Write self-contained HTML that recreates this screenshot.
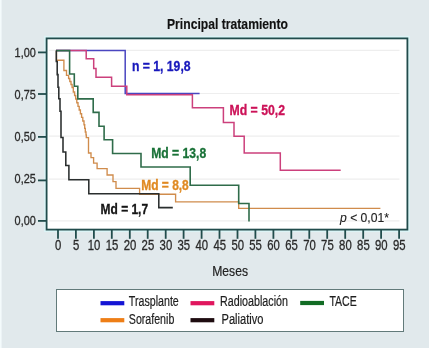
<!DOCTYPE html>
<html><head><meta charset="utf-8"><style>
html,body{margin:0;padding:0;background:#e1e9ec;}
svg{display:block;font-family:"Liberation Sans",sans-serif;} svg{will-change:transform}
</style></head><body>
<svg width="429" height="348" viewBox="0 0 429 348">
<rect x="0" y="0" width="429" height="348" fill="#e1e9ec"/>
<rect x="0" y="0" width="1.6" height="348" fill="#f4fbfc"/>
<rect x="46.6" y="38.4" width="360.8" height="191.2" fill="none" stroke="#dcf4f6" stroke-width="5"/>
<rect x="46.6" y="38.4" width="360.8" height="191.2" fill="#ffffff" stroke="#214c4c" stroke-width="1.8"/>
<line x1="49" y1="50.4" x2="399.5" y2="50.4" stroke="#eeeeee" stroke-width="1.2"/>
<line x1="49" y1="93.5" x2="399.5" y2="93.5" stroke="#eeeeee" stroke-width="1.2"/>
<line x1="49" y1="136.2" x2="399.5" y2="136.2" stroke="#eeeeee" stroke-width="1.2"/>
<line x1="49" y1="179.1" x2="399.5" y2="179.1" stroke="#eeeeee" stroke-width="1.2"/>
<line x1="49" y1="220.8" x2="399.5" y2="220.8" stroke="#eeeeee" stroke-width="1.2"/>
<line x1="38" y1="52.4" x2="46.6" y2="52.4" stroke="#214c4c" stroke-width="1.8"/>
<text x="35.8" y="56.9" text-anchor="end" font-size="13.5" textLength="21.2" lengthAdjust="spacingAndGlyphs" fill="#2a2a2a" stroke="#2a2a2a" stroke-width="0.3">1,00</text>
<line x1="38" y1="94.0" x2="46.6" y2="94.0" stroke="#214c4c" stroke-width="1.8"/>
<text x="35.8" y="98.9" text-anchor="end" font-size="13.5" textLength="21.2" lengthAdjust="spacingAndGlyphs" fill="#2a2a2a" stroke="#2a2a2a" stroke-width="0.3">0,75</text>
<line x1="38" y1="136.9" x2="46.6" y2="136.9" stroke="#214c4c" stroke-width="1.8"/>
<text x="35.8" y="140.9" text-anchor="end" font-size="13.5" textLength="21.2" lengthAdjust="spacingAndGlyphs" fill="#2a2a2a" stroke="#2a2a2a" stroke-width="0.3">0,50</text>
<line x1="38" y1="180.4" x2="46.6" y2="180.4" stroke="#214c4c" stroke-width="1.8"/>
<text x="35.8" y="182.6" text-anchor="end" font-size="13.5" textLength="21.2" lengthAdjust="spacingAndGlyphs" fill="#2a2a2a" stroke="#2a2a2a" stroke-width="0.3">0,25</text>
<line x1="38" y1="220.9" x2="46.6" y2="220.9" stroke="#214c4c" stroke-width="1.8"/>
<text x="35.8" y="224.9" text-anchor="end" font-size="13.5" textLength="21.2" lengthAdjust="spacingAndGlyphs" fill="#2a2a2a" stroke="#2a2a2a" stroke-width="0.3">0,00</text>
<line x1="58.0" y1="229.6" x2="58.0" y2="238.8" stroke="#214c4c" stroke-width="1.8"/>
<text x="58.2" y="250.2" text-anchor="middle" font-size="14.2" textLength="6.3" lengthAdjust="spacingAndGlyphs" fill="#2a2a2a" stroke="#2a2a2a" stroke-width="0.3">0</text>
<line x1="75.9" y1="229.6" x2="75.9" y2="238.8" stroke="#214c4c" stroke-width="1.8"/>
<text x="76.1" y="250.2" text-anchor="middle" font-size="14.2" textLength="6.3" lengthAdjust="spacingAndGlyphs" fill="#2a2a2a" stroke="#2a2a2a" stroke-width="0.3">5</text>
<line x1="93.9" y1="229.6" x2="93.9" y2="238.8" stroke="#214c4c" stroke-width="1.8"/>
<text x="94.1" y="250.2" text-anchor="middle" font-size="14.2" textLength="12.6" lengthAdjust="spacingAndGlyphs" fill="#2a2a2a" stroke="#2a2a2a" stroke-width="0.3">10</text>
<line x1="111.8" y1="229.6" x2="111.8" y2="238.8" stroke="#214c4c" stroke-width="1.8"/>
<text x="112.0" y="250.2" text-anchor="middle" font-size="14.2" textLength="12.6" lengthAdjust="spacingAndGlyphs" fill="#2a2a2a" stroke="#2a2a2a" stroke-width="0.3">15</text>
<line x1="129.8" y1="229.6" x2="129.8" y2="238.8" stroke="#214c4c" stroke-width="1.8"/>
<text x="130.0" y="250.2" text-anchor="middle" font-size="14.2" textLength="12.6" lengthAdjust="spacingAndGlyphs" fill="#2a2a2a" stroke="#2a2a2a" stroke-width="0.3">20</text>
<line x1="147.7" y1="229.6" x2="147.7" y2="238.8" stroke="#214c4c" stroke-width="1.8"/>
<text x="147.9" y="250.2" text-anchor="middle" font-size="14.2" textLength="12.6" lengthAdjust="spacingAndGlyphs" fill="#2a2a2a" stroke="#2a2a2a" stroke-width="0.3">25</text>
<line x1="165.7" y1="229.6" x2="165.7" y2="238.8" stroke="#214c4c" stroke-width="1.8"/>
<text x="165.9" y="250.2" text-anchor="middle" font-size="14.2" textLength="12.6" lengthAdjust="spacingAndGlyphs" fill="#2a2a2a" stroke="#2a2a2a" stroke-width="0.3">30</text>
<line x1="183.6" y1="229.6" x2="183.6" y2="238.8" stroke="#214c4c" stroke-width="1.8"/>
<text x="183.8" y="250.2" text-anchor="middle" font-size="14.2" textLength="12.6" lengthAdjust="spacingAndGlyphs" fill="#2a2a2a" stroke="#2a2a2a" stroke-width="0.3">35</text>
<line x1="201.6" y1="229.6" x2="201.6" y2="238.8" stroke="#214c4c" stroke-width="1.8"/>
<text x="201.8" y="250.2" text-anchor="middle" font-size="14.2" textLength="12.6" lengthAdjust="spacingAndGlyphs" fill="#2a2a2a" stroke="#2a2a2a" stroke-width="0.3">40</text>
<line x1="219.5" y1="229.6" x2="219.5" y2="238.8" stroke="#214c4c" stroke-width="1.8"/>
<text x="219.7" y="250.2" text-anchor="middle" font-size="14.2" textLength="12.6" lengthAdjust="spacingAndGlyphs" fill="#2a2a2a" stroke="#2a2a2a" stroke-width="0.3">45</text>
<line x1="237.5" y1="229.6" x2="237.5" y2="238.8" stroke="#214c4c" stroke-width="1.8"/>
<text x="237.7" y="250.2" text-anchor="middle" font-size="14.2" textLength="12.6" lengthAdjust="spacingAndGlyphs" fill="#2a2a2a" stroke="#2a2a2a" stroke-width="0.3">50</text>
<line x1="255.4" y1="229.6" x2="255.4" y2="238.8" stroke="#214c4c" stroke-width="1.8"/>
<text x="255.6" y="250.2" text-anchor="middle" font-size="14.2" textLength="12.6" lengthAdjust="spacingAndGlyphs" fill="#2a2a2a" stroke="#2a2a2a" stroke-width="0.3">55</text>
<line x1="273.4" y1="229.6" x2="273.4" y2="238.8" stroke="#214c4c" stroke-width="1.8"/>
<text x="273.6" y="250.2" text-anchor="middle" font-size="14.2" textLength="12.6" lengthAdjust="spacingAndGlyphs" fill="#2a2a2a" stroke="#2a2a2a" stroke-width="0.3">60</text>
<line x1="291.3" y1="229.6" x2="291.3" y2="238.8" stroke="#214c4c" stroke-width="1.8"/>
<text x="291.5" y="250.2" text-anchor="middle" font-size="14.2" textLength="12.6" lengthAdjust="spacingAndGlyphs" fill="#2a2a2a" stroke="#2a2a2a" stroke-width="0.3">65</text>
<line x1="309.3" y1="229.6" x2="309.3" y2="238.8" stroke="#214c4c" stroke-width="1.8"/>
<text x="309.5" y="250.2" text-anchor="middle" font-size="14.2" textLength="12.6" lengthAdjust="spacingAndGlyphs" fill="#2a2a2a" stroke="#2a2a2a" stroke-width="0.3">70</text>
<line x1="327.2" y1="229.6" x2="327.2" y2="238.8" stroke="#214c4c" stroke-width="1.8"/>
<text x="327.4" y="250.2" text-anchor="middle" font-size="14.2" textLength="12.6" lengthAdjust="spacingAndGlyphs" fill="#2a2a2a" stroke="#2a2a2a" stroke-width="0.3">75</text>
<line x1="345.2" y1="229.6" x2="345.2" y2="238.8" stroke="#214c4c" stroke-width="1.8"/>
<text x="345.4" y="250.2" text-anchor="middle" font-size="14.2" textLength="12.6" lengthAdjust="spacingAndGlyphs" fill="#2a2a2a" stroke="#2a2a2a" stroke-width="0.3">80</text>
<line x1="363.2" y1="229.6" x2="363.2" y2="238.8" stroke="#214c4c" stroke-width="1.8"/>
<text x="363.4" y="250.2" text-anchor="middle" font-size="14.2" textLength="12.6" lengthAdjust="spacingAndGlyphs" fill="#2a2a2a" stroke="#2a2a2a" stroke-width="0.3">85</text>
<line x1="381.1" y1="229.6" x2="381.1" y2="238.8" stroke="#214c4c" stroke-width="1.8"/>
<text x="381.3" y="250.2" text-anchor="middle" font-size="14.2" textLength="12.6" lengthAdjust="spacingAndGlyphs" fill="#2a2a2a" stroke="#2a2a2a" stroke-width="0.3">90</text>
<line x1="399.1" y1="229.6" x2="399.1" y2="238.8" stroke="#214c4c" stroke-width="1.8"/>
<text x="399.3" y="250.2" text-anchor="middle" font-size="14.2" textLength="12.6" lengthAdjust="spacingAndGlyphs" fill="#2a2a2a" stroke="#2a2a2a" stroke-width="0.3">95</text>
<polyline points="56.0,50.6 125.2,50.6 125.2,93.5 199.6,93.5" fill="none" stroke="#4a46c0" stroke-width="1.5" stroke-linejoin="miter"/>
<polyline points="56.0,50.6 86.2,50.6 86.2,58.8 93.7,58.8 93.7,68.5 96.0,68.5 96.0,77.2 111.6,77.2 111.6,86.2 126.8,86.2 126.8,94.8 192.4,94.8 192.4,107.7 223.4,107.7 223.4,122.4 234.0,122.4 234.0,136.2 244.2,136.2 244.2,153.0 280.3,153.0 280.3,170.3 340.7,170.3" fill="none" stroke="#cc407c" stroke-width="1.5" stroke-linejoin="miter"/>
<polyline points="56.5,50.6 56.5,60.2 63.9,60.2 63.9,70.5 66.5,70.5 66.5,75.3 68.6,75.3 68.6,78.5 69.8,78.5 69.8,81.5 71.0,81.5 71.0,84.5 72.1,84.5 72.1,87.5 73.3,87.5 73.3,92.0 74.6,92.0 74.6,95.5 75.7,95.5 75.7,99.0 76.8,99.0 76.8,102.7 78.0,102.7 78.0,106.3 79.2,106.3 79.2,110.0 80.4,110.0 80.4,113.7 81.6,113.7 81.6,117.3 82.8,117.3 82.8,121.0 84.0,121.0 84.0,124.7 84.7,124.7 84.7,128.3 85.3,128.3 85.3,132.0 86.0,132.0 86.0,134.8 86.3,134.8 86.3,137.6 86.6,137.6 88.5,137.6 88.5,153.0 91.0,153.0 91.0,157.6 93.6,157.6 93.6,163.1 97.1,163.1 97.1,168.6 107.1,168.6 107.1,175.0 113.0,175.0 113.0,181.6 116.0,181.6 116.0,188.4 139.6,188.4 139.6,194.2 175.6,194.2 175.6,201.9 238.7,201.9 238.7,208.3 380.4,208.3" fill="none" stroke="#d08c4c" stroke-width="1.35" stroke-linejoin="miter"/>
<polyline points="56.0,50.6 69.6,50.6 69.6,74.0 74.3,74.0 74.3,86.3 77.8,86.3 77.8,98.9 93.2,98.9 93.2,112.4 99.0,112.4 99.0,126.2 104.1,126.2 104.1,139.7 112.6,139.7 112.6,153.5 141.0,153.5 141.0,167.0 190.2,167.0 190.2,185.3 238.7,185.3 238.7,203.5 249.0,203.5 249.0,221.6" fill="none" stroke="#2f6c4a" stroke-width="1.6" stroke-linejoin="miter"/>
<polyline points="56.3,50.6 56.3,61.5 57.2,61.5 57.2,74.6 58.0,74.6 58.0,87.2 58.8,87.2 58.8,98.7 60.0,98.7 60.0,111.3 61.0,111.3 61.0,137.4 63.0,137.4 63.0,152.0 65.8,152.0 65.8,165.5 68.9,165.5 68.9,179.7 88.8,179.7 88.8,193.8 158.8,193.8 158.8,207.6 172.8,207.6" fill="none" stroke="#2a2e2e" stroke-width="1.55" stroke-linejoin="miter"/>
<text x="167" y="28.9" font-size="14.7" font-weight="bold" textLength="121" lengthAdjust="spacingAndGlyphs" fill="#111" stroke="#111" stroke-width="0.15" >Principal tratamiento</text>
<text x="131.9" y="70.6" font-size="13.8" font-weight="bold" textLength="58.7" lengthAdjust="spacingAndGlyphs" fill="#1818bc" stroke="#1818bc" stroke-width="0.3" >n = 1, 19,8</text>
<text x="229.5" y="114.6" font-size="14" font-weight="bold" textLength="55.5" lengthAdjust="spacingAndGlyphs" fill="#cc1258" stroke="#cc1258" stroke-width="0.3" >Md = 50,2</text>
<text x="151.2" y="158" font-size="14" font-weight="bold" textLength="55" lengthAdjust="spacingAndGlyphs" fill="#1a7238" stroke="#1a7238" stroke-width="0.3" >Md = 13,8</text>
<text x="141.2" y="190.4" font-size="14" font-weight="bold" textLength="47.6" lengthAdjust="spacingAndGlyphs" fill="#e08a22" stroke="#e08a22" stroke-width="0.3" >Md = 8,8</text>
<text x="100.6" y="214.3" font-size="14" font-weight="bold" textLength="47.5" lengthAdjust="spacingAndGlyphs" fill="#151515" stroke="#151515" stroke-width="0.3" >Md = 1,7</text>
<text x="340" y="222.2" font-size="13.5" fill="#222" stroke="#222" stroke-width="0.12" textLength="49" lengthAdjust="spacingAndGlyphs"><tspan font-style="italic">p</tspan> &lt; 0,01*</text>
<text x="212.2" y="275.7" font-size="14.3"  textLength="35.8" lengthAdjust="spacingAndGlyphs" fill="#222" stroke="#222" stroke-width="0.2" >Meses</text>
<rect x="56.5" y="289.5" width="347" height="42" fill="#ffffff" stroke="#627a7a" stroke-width="1"/>
<rect x="100.5" y="301.1" width="23.8" height="4.2" fill="#1414d4"/>
<text x="128.8" y="306.4" font-size="13.8"  textLength="50" lengthAdjust="spacingAndGlyphs" fill="#1e1e1e" stroke="#1e1e1e" stroke-width="0.2" >Trasplante</text>
<rect x="190.5" y="301.1" width="23.8" height="4.2" fill="#e0165e"/>
<text x="220" y="306.4" font-size="13.8"  textLength="68" lengthAdjust="spacingAndGlyphs" fill="#1e1e1e" stroke="#1e1e1e" stroke-width="0.2" >Radioablación</text>
<rect x="300.2" y="300.9" width="23.8" height="4.2" fill="#126c24"/>
<text x="329.4" y="306.2" font-size="13.8"  textLength="27.3" lengthAdjust="spacingAndGlyphs" fill="#1e1e1e" stroke="#1e1e1e" stroke-width="0.2" >TACE</text>
<rect x="100.5" y="318.1" width="23.8" height="4.2" fill="#ee7e16"/>
<text x="128.8" y="323.7" font-size="13.8"  textLength="45.5" lengthAdjust="spacingAndGlyphs" fill="#1e1e1e" stroke="#1e1e1e" stroke-width="0.2" >Sorafenib</text>
<rect x="190.5" y="318.1" width="23.8" height="4.2" fill="#1e0c10"/>
<text x="221.5" y="323.7" font-size="13.8"  textLength="42" lengthAdjust="spacingAndGlyphs" fill="#1e1e1e" stroke="#1e1e1e" stroke-width="0.2" >Paliativo</text>
</svg></body></html>
